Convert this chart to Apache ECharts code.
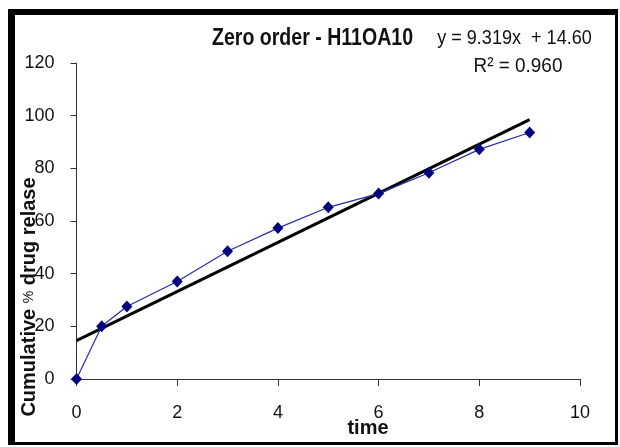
<!DOCTYPE html>
<html>
<head>
<meta charset="utf-8">
<script src="https://cdn.jsdelivr.net/npm/echarts@6/dist/echarts.min.js"></script>
<style>
html,body{margin:0;padding:0;background:#fff;}
#c{width:620px;height:447px;}
</style>
</head>
<body>
<div id="c"></div>
<script>
// Data
var timeValues = [0, 0.5, 1, 2, 3, 4, 5, 6, 7, 8, 9];
var releaseValues = [0, 20, 27.5, 37, 48.5, 57.3, 65.2, 70.4, 78.3, 87.2, 93.6];
var xTicks = [0, 2, 4, 6, 8, 10];
var yTicks = [0, 20, 40, 60, 80, 100, 120];
// Linear trendline as printed on the chart
var slope = 9.319;
var intercept = 14.60;
var rSquared = 0.960;
var trendX = [0, 9];

var FN = "'Liberation Sans', Arial, sans-serif";

var pts = timeValues.map(function (t, i) { return [t, releaseValues[i]]; });
var trend = trendX.map(function (t) { return [t, slope * t + intercept]; });

var chart = echarts.init(document.getElementById('c'), null, {renderer: 'canvas'});
chart.setOption({
  animation: false,
  backgroundColor: '#fff',
  grid: {left: 76.5, right: 40, top: 63, bottom: 68},
  xAxis: {
    type: 'value', min: xTicks[0], max: xTicks[xTicks.length - 1], interval: 2,
    splitLine: {show: false},
    axisLine: {onZero: false, lineStyle: {color: '#333', width: 1}},
    axisTick: {show: true, length: 7, lineStyle: {color: '#333'}},
    axisLabel: {fontFamily: FN, fontSize: 18, color: '#111', margin: 25}
  },
  yAxis: {
    type: 'value', min: yTicks[0], max: yTicks[yTicks.length - 1], interval: 20,
    splitLine: {show: false},
    axisLine: {show: true, lineStyle: {color: '#333', width: 1}},
    axisTick: {show: true, length: 6, lineStyle: {color: '#333'}},
    axisLabel: {fontFamily: FN, fontSize: 18, color: '#111', margin: 22}
  },
  series: [
    {
      type: 'line', data: trend, symbol: 'none', z: 3,
      lineStyle: {color: '#000', width: 3}
    },
    {
      type: 'line', data: pts, symbol: 'diamond', symbolSize: [11, 12], z: 4,
      lineStyle: {color: '#2a2aa8', width: 1.2},
      itemStyle: {color: '#000080'}
    }
  ],
  graphic: [
    {type: 'rect', shape: {x: 8, y: 9, width: 7, height: 436}, style: {fill: '#000'}, silent: true},
    {type: 'rect', shape: {x: 8, y: 9, width: 610, height: 6}, style: {fill: '#000'}, silent: true},
    {type: 'rect', shape: {x: 615, y: 9, width: 3, height: 436}, style: {fill: '#000'}, silent: true},
    {type: 'rect', shape: {x: 8, y: 442, width: 610, height: 3}, style: {fill: '#000'}, silent: true},
    {type: 'text', x: 212, y: 39, scaleX: 0.85, style: {text: 'Zero order - H11OA10', font: 'bold 23px ' + FN, fill: '#111', textAlign: 'left', textVerticalAlign: 'middle'}},
    {type: 'text', x: 514.5, y: 38, scaleX: 0.86, style: {text: 'y = ' + slope.toFixed(3) + 'x  + ' + intercept.toFixed(2), font: '21px ' + FN, fill: '#111', textAlign: 'center', textVerticalAlign: 'middle'}},
    {type: 'text', x: 518, y: 66, scaleX: 0.9, style: {text: 'R\u00b2 = ' + rSquared.toFixed(3), font: '21px ' + FN, fill: '#111', textAlign: 'center', textVerticalAlign: 'middle'}},
    {type: 'text', x: 368, y: 428, style: {text: 'time', font: 'bold 20px ' + FN, fill: '#111', textAlign: 'center', textVerticalAlign: 'middle'}},
    {type: 'text', x: 29, y: 297, rotation: Math.PI / 2, style: {
      text: '{b|Cumulative }{s|%}{b| drug relase}',
      textAlign: 'center', textVerticalAlign: 'middle', fill: '#111',
      rich: {
        b: {fontFamily: FN, fontWeight: 'bold', fontSize: 20, fill: '#111'},
        s: {fontFamily: FN, fontSize: 14, fill: '#111'}
      }
    }}
  ]
});
</script>
</body>
</html>
